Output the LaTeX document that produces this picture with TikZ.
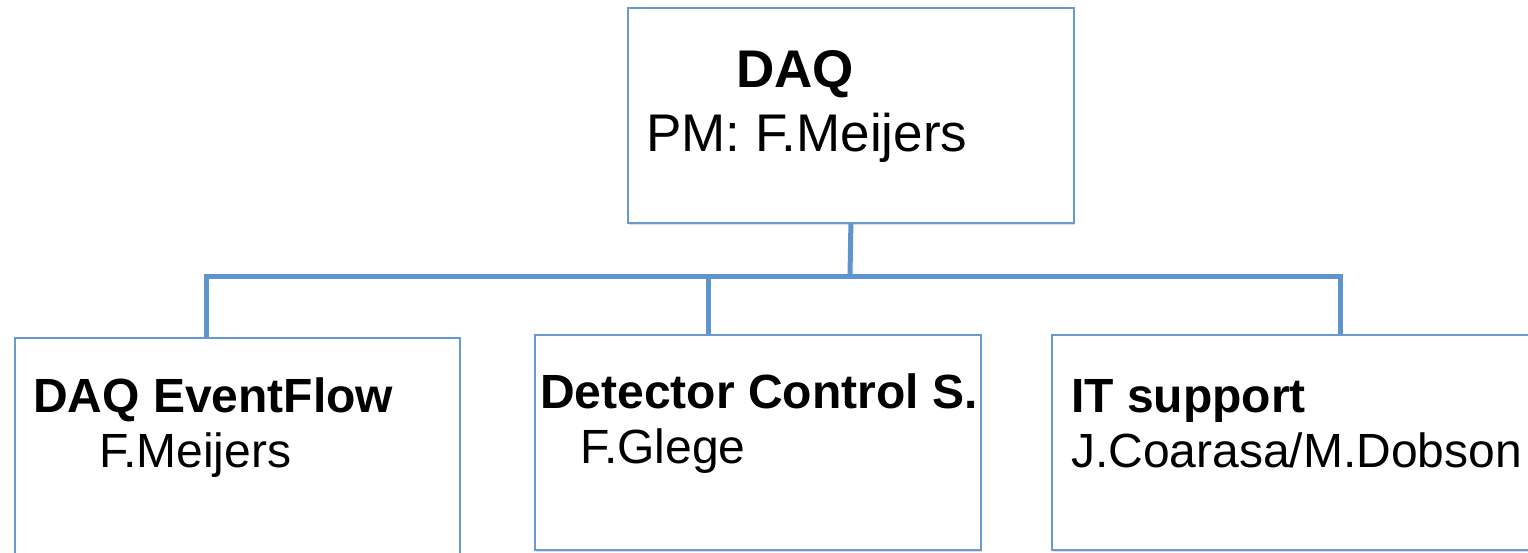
\documentclass[tikz,border=0pt]{standalone}
\usepackage{fontspec}
\setmainfont{Liberation Sans}
\usetikzlibrary{shadows}
\definecolor{lineblue}{RGB}{96,148,204}
\definecolor{boxblue}{RGB}{104,154,208}
\begin{document}
\begin{tikzpicture}[x=1pt,y=-1pt,
  orgbox/.style={draw=boxblue,line width=1.8pt,fill=white,inner sep=0pt,anchor=north west,
    drop shadow={shadow xshift=1.5pt,shadow yshift=-2pt,opacity=0.25,fill=gray}},
  conn/.style={draw=lineblue,line width=5pt},
  bigtxt/.style={anchor=base west,inner sep=0pt,font=\fontsize{53}{60}\selectfont},
  smalltxt/.style={anchor=base west,inner sep=0pt,font=\fontsize{48}{55}\selectfont}]
\useasboundingbox (0,0) rectangle (1528,552);
\clip (0,0) rectangle (1528,552);
% connector points
\coordinate (bus) at (850,276);
\coordinate (d1) at (206,337);
\coordinate (d2) at (708,334);
\coordinate (d3) at (1340,334);
% boxes and connectors
\node[orgbox,minimum width=446pt,minimum height=215pt] (top) at (627,7) {};
\draw[conn] (top.south) -- (bus);
\draw[conn] (d1) |- (bus) -| (d3);
\draw[conn] (d2) -- (d2 |- bus);
\node[orgbox,minimum width=445pt,minimum height=240pt] (c1) at (14,337) {};
\node[orgbox,minimum width=446pt,minimum height=215pt] (c2) at (534,334) {};
\node[orgbox,minimum width=500pt,minimum height=215pt] (c3) at (1051,334) {};
% texts
\node[bigtxt] (t1) at (736,87) {\bfseries DAQ};
\node[bigtxt] (t2) at (646,151) {PM: F.Meijers};
\node[smalltxt] (l1) at (33,412) {\bfseries DAQ EventFlow};
\node[smalltxt] (l2) at (99,467) {F.Meijers};
\node[smalltxt] (m1) at (540,408) {\bfseries Detector Control S.};
\node[smalltxt] (m2) at (580,463) {F.Glege};
\node[smalltxt] (r1) at (1071,412) {\bfseries IT support};
\node[smalltxt] (r2) at (1071,467) {J.Coarasa/M.Dobson};
\end{tikzpicture}
\end{document}
